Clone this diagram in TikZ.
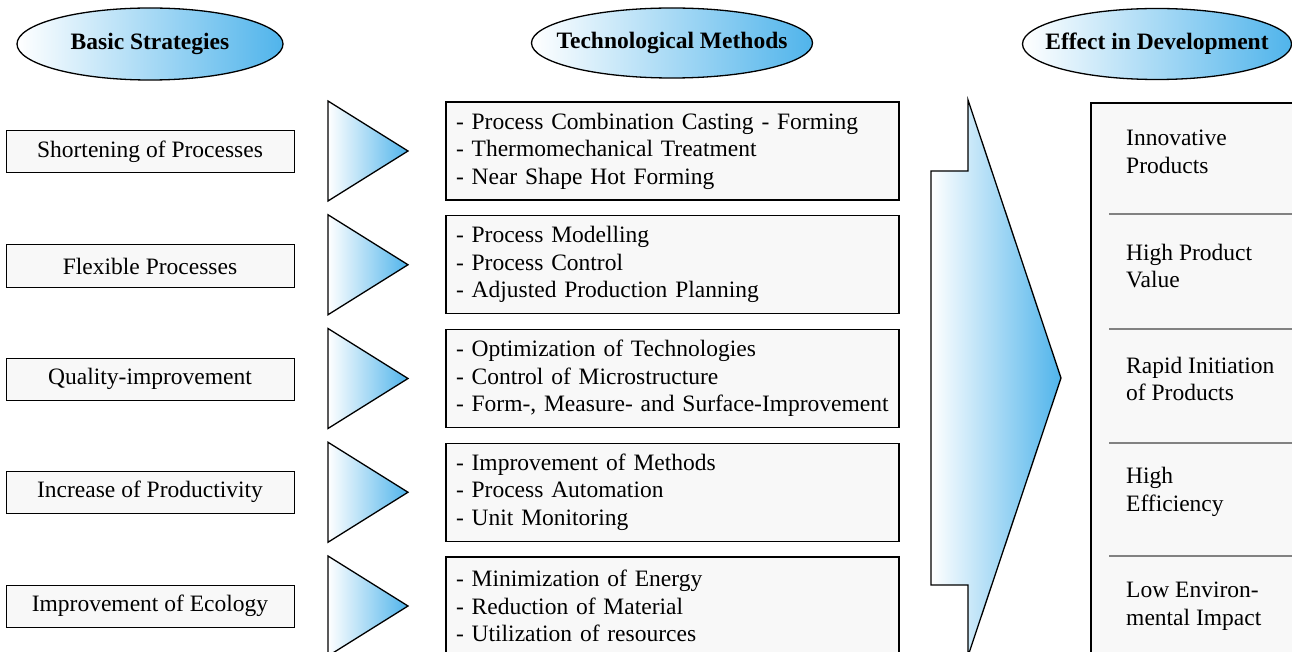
\documentclass[tikz,border=0pt]{standalone}
\usepackage{fontspec}
\setmainfont{Liberation Serif}
\usetikzlibrary{shapes.geometric}
\definecolor{skyblue}{RGB}{80,180,235}
\definecolor{boxfill}{RGB}{248,248,248}
\definecolor{rulegray}{RGB}{130,130,130}
\newcommand{\headtext}[1]{\makebox[0pt]{#1}}
\begin{document}
\begin{tikzpicture}[x=1pt,y=-1pt,
  txt/.style={font=\fontsize{23.5}{27.5}\selectfont},
  header/.style={ellipse, draw, line width=1.3pt, inner sep=0pt,
    left color=white, right color=skyblue,
    font=\bfseries\fontsize{23.5}{27.5}\selectfont},
  strategy/.style={rectangle, draw, line width=1pt, fill=boxfill,
    minimum width=288pt, minimum height=42pt, inner sep=0pt, txt},
  method/.style={rectangle, draw, line width=1.3pt, fill=boxfill,
    minimum height=98pt, text width=433pt, inner xsep=10pt, inner ysep=0pt,
    align=left, txt},
  effect/.style={anchor=west, align=left, inner sep=0pt, txt},
  wedge/.style={draw, line width=1.3pt, line join=miter, left color=white, right color=skyblue}
]
\useasboundingbox (0,0) rectangle (1292,652);

% column headings
\node[header, minimum width=266pt, minimum height=72pt] (hbasic) at (150,44) {\headtext{Basic Strategies}};
\node[header, minimum width=281pt, minimum height=70pt] (htech) at (672,43) {\headtext{Technological Methods}};
\node[header, minimum width=269pt, minimum height=71pt] (heffect) at (1157,44) {\headtext{Effect in Development}};

% basic strategies
\node[strategy] (s1) at (150,152) {Shortening of Processes};
\node[strategy] (s2) at (150,266) {Flexible Processes};
\node[strategy] (s3) at (150,379) {Quality-improvement};
\node[strategy] (s4) at (150,492) {Increase of Productivity};
\node[strategy] (s5) at (150,606) {Improvement of Ecology};

% wedges leading to the methods
\foreach \yc in {151,264.75,378.5,492.25,606}{
  \path[wedge] (328,\yc-50) -- (408,\yc) -- (328,\yc+50) -- cycle;
}

% technological methods
\node[method] (m1) at (672.5,151) {- Process Combination Casting - Forming\\- Thermomechanical Treatment\\- Near Shape Hot Forming};
\node[method] (m2) at (672.5,264.75) {- Process Modelling\\- Process Control\\- Adjusted Production Planning};
\node[method] (m3) at (672.5,378.5) {- Optimization of Technologies\\- Control of Microstructure\\- Form-, Measure- and Surface-Improvement};
\node[method] (m4) at (672.5,492.25) {- Improvement of Methods\\- Process Automation\\- Unit Monitoring};
\node[method] (m5) at (672.5,606) {- Minimization of Energy\\- Reduction of Material\\- Utilization of resources};

% large arrow towards the effects
\path[wedge] (931,171) -- (968,171) -- (968,100) -- (1061,378)
  -- (968,656) -- (968,585) -- (931,585) -- cycle;

% effects column
\draw[line width=1.3pt, fill=boxfill] (1091,103) rectangle (1320,680);
\foreach \yd in {214,329,443,556}{
  \draw[rulegray, line width=1.2pt] (1109,\yd) -- (1300,\yd);
}
\node[effect] (e1) at (1126,152) {Innovative\\Products};
\node[effect] (e2) at (1126,266) {High Product\\Value};
\node[effect] (e3) at (1126,379) {Rapid Initiation\\of Products};
\node[effect] (e4) at (1126,492) {High\\Efficiency};
\node[effect] (e5) at (1126,606) {Low Environ-\\mental Impact};
\end{tikzpicture}
\end{document}
